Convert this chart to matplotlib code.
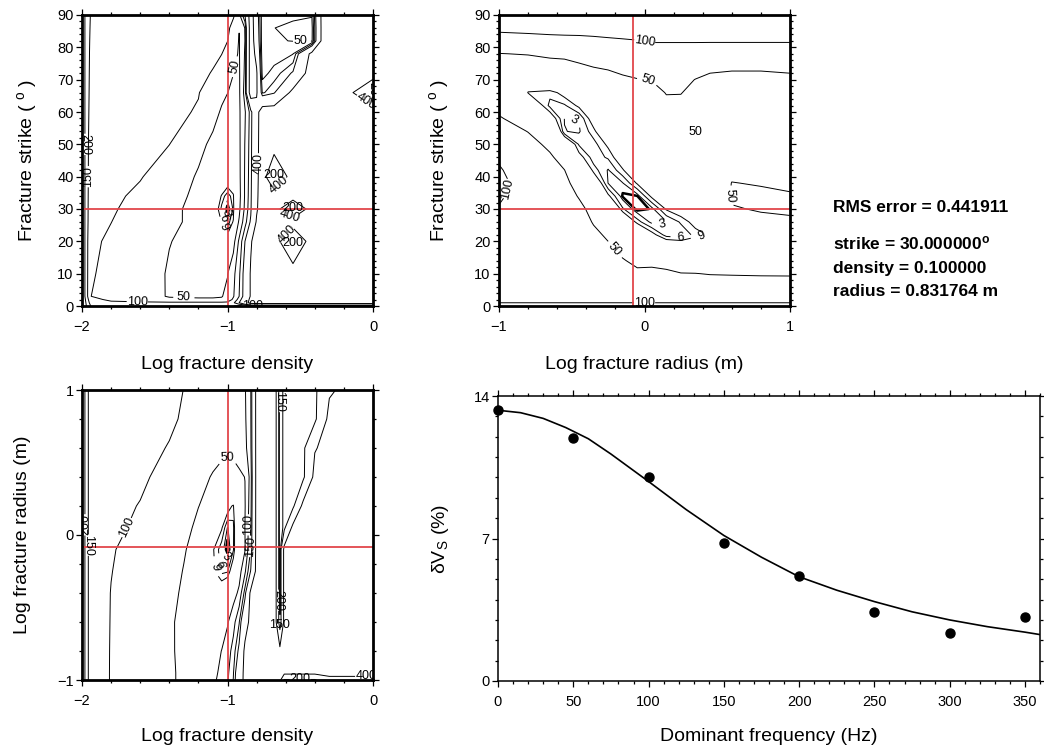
import numpy as np
import matplotlib
matplotlib.use('Agg')
import matplotlib.pyplot as plt
from matplotlib.ticker import MultipleLocator

plt.rcParams['font.family'] = ['Liberation Sans', 'DejaVu Sans']
plt.rcParams['mathtext.fontset'] = 'custom'
plt.rcParams['mathtext.rm'] = 'Liberation Sans'
plt.rcParams['mathtext.it'] = 'Liberation Sans:italic'
plt.rcParams['mathtext.bf'] = 'Liberation Sans:bold'

# best-fitting crack model
best_strike = 30.0
best_density = 0.1
best_radius = 0.831764
rms_error = 0.441911

# observed shear-wave anisotropy against dominant frequency
freq_obs = [0, 50, 100, 150, 200, 250, 300, 350]
dvs_obs = [13.30, 11.92, 10.03, 6.80, 5.16, 3.41, 2.34, 3.12]

# predicted anisotropy of the best model
freq_fit = [0, 15, 30, 45, 60, 75, 100, 125, 150, 175, 200, 225, 250, 275, 300, 325, 350, 360]
dvs_fit = [13.30, 13.18, 12.90, 12.45, 11.90, 11.15, 9.80, 8.42, 7.15, 6.08, 5.12, 4.46, 3.90,
           3.40, 3.00, 2.67, 2.40, 2.28]

levels = [1.8, 3, 6, 9, 50, 100, 150, 200, 400]

# misfit, log density vs strike (rows = strike)
tl_density = [-2.0, -1.97, -1.94, -1.8, -1.6, -1.4, -1.2, -1.1, -1.04, -1.0, -0.96,
              -0.92, -0.88, -0.84, -0.8, -0.76, -0.68, -0.55, -0.42, -0.34, -0.2, 0.0]
tl_strike = [0, 1, 2, 3, 10, 20, 26, 30, 34, 40, 50, 60, 66, 72, 78, 82, 86, 90]
tl_misfit = [
    [300, 200, 150, 130, 130, 130, 130, 130, 125, 115, 101, 90, 80, 80, 80, 80, 80, 80, 80, 80, 80, 80],
    [280, 190, 130, 110, 110, 110, 110, 110, 110, 112, 140, 200, 300, 480, 500, 500, 500, 500, 500, 500, 500, 500],
    [270, 180, 115, 90, 75, 55, 55, 55, 55, 65, 110, 170, 260, 460, 500, 500, 500, 500, 500, 500, 500, 500],
    [260, 170, 100.5, 80, 62, 48, 45, 45, 48, 60, 95, 150, 230, 420, 500, 500, 500, 500, 500, 500, 500, 500],
    [260, 170, 104, 88, 67, 47, 40, 37, 40, 48, 85, 140, 230, 420, 500, 500, 500, 500, 500, 500, 500, 500],
    [260, 170, 108, 93, 72, 51, 40, 32, 25, 12, 30, 110, 200, 380, 500, 500, 500, 180, 500, 500, 500, 500],
    [260, 170, 118, 100.5, 78, 56.5, 42, 30, 8, 4, 9.5, 55, 130, 210, 420, 500, 500, 500, 500, 500, 500, 500],
    [260, 170, 120, 106, 81, 54.5, 44.5, 15, 5, 1.0, 6.5, 40, 110, 190, 380, 500, 500, 180, 500, 500, 500, 500],
    [260, 170, 122, 110, 90, 60, 44, 22, 8, 4, 8, 35, 105, 185, 370, 500, 500, 500, 500, 500, 500, 500],
    [260, 170, 125, 115, 103, 74, 46, 35, 24, 15, 18, 38, 105, 180, 360, 500, 180, 500, 500, 500, 500, 500],
    [260, 170, 128, 120, 112, 100.5, 60, 42, 38, 36, 34, 40, 102, 175, 350, 500, 500, 500, 500, 500, 500, 500],
    [260, 170, 135, 128, 120, 112, 96, 62, 46, 40, 38, 42, 95, 170, 340, 500, 500, 500, 500, 500, 500, 500],
    [260, 170, 138, 132, 126, 118, 102, 75, 58, 50.5, 44, 42, 120, 500, 420, 140, 190, 450, 500, 500, 500, 180],
    [260, 170, 140, 135, 130, 124, 112, 97, 72, 60, 50.5, 44, 110, 500, 420, 80, 120, 210, 500, 500, 500, 500],
    [260, 170, 142, 138, 134, 128, 120, 110, 101, 80, 62, 46, 105, 500, 350, 60, 70, 98, 450, 500, 500, 500],
    [260, 170, 144, 140, 136, 132, 126, 116, 108, 101, 76, 47, 100.5, 500, 300, 58, 54, 48.5, 40, 500, 500, 500],
    [260, 170, 146, 142, 138, 134, 128, 120, 112, 106, 90, 52, 102, 500, 280, 60, 50.5, 42, 36, 500, 500, 500],
    [260, 170, 148, 144, 140, 136, 130, 124, 116, 110, 104, 85, 200, 500, 260, 62, 60, 57, 53, 500, 500, 500],
]

# misfit, log radius vs strike (one profile per radius column)
tr_radius = [-1.0, -0.8, -0.65, -0.55, -0.45, -0.35, -0.25, -0.15, -0.05,
             0.05, 0.15, 0.25, 0.35, 0.45, 0.6, 0.8, 1.0]
tr_strike = [0, 2, 6, 10, 14, 18, 22, 26, 30, 34, 38, 42, 46, 50, 54, 58, 62, 66, 70, 74, 78, 82, 86, 90]
tr_misfit_cols = [
    [108, 92, 85, 82, 82, 84, 88, 93, 98, 104, 108, 103, 96, 85, 70, 53, 40, 31, 29, 36, 49, 80, 110, 130],
    [108, 92, 80, 76, 75, 76, 78, 80, 83, 85, 86, 82, 75, 63, 49, 34, 17, 8.7, 14, 30, 52, 84, 112, 130],
    [108, 92, 78, 72, 70, 70, 71, 73, 76, 78, 75, 67, 55, 42, 27, 13, 5, 7, 20, 38, 56, 88, 113, 130],
    [108, 92, 77, 71, 69, 68, 68, 68, 68, 66, 60, 50.5, 36, 18, 3.1, 2.9, 5.5, 11, 24, 40, 57, 89, 114, 130],
    [108, 92, 76, 70, 67, 66, 65, 63, 59, 47.5, 34, 22, 11, 5.5, 2.6, 3.2, 10, 18, 30, 46, 60, 90, 114, 130],
    [108, 92, 74, 67, 63, 60, 56, 48, 39, 28, 16, 7.5, 4.3, 4.6, 7.8, 12, 20, 28, 36, 50.5, 62, 92, 115, 130],
    [108, 92, 72, 65, 60, 54, 46, 34, 22, 10, 2.9, 2.7, 6.5, 10, 16, 23, 29, 34, 41, 53, 66, 95, 115, 130],
    [108, 92, 70, 61, 52, 42, 30, 18, 6.5, 1.5, 2.8, 8.5, 13, 19, 25, 30, 34, 39, 46, 57, 70, 97, 116, 130],
    [108, 92, 68, 55, 44, 32, 20, 7.5, 1.0, 1.7, 9.5, 15, 21, 27, 32, 36, 40, 44, 49, 61, 74, 99, 117, 130],
    [108, 92, 68, 56, 44, 27, 11, 2.0, 2.0, 10, 17, 24, 30, 35, 38, 41, 43, 46, 50.5, 62, 80, 103, 118, 130],
    [108, 92, 67, 55, 40, 17, 4.5, 2.7, 9.5, 16, 23, 30, 35, 39, 42, 45, 47.5, 50.5, 55, 64, 80, 103, 118, 130],
    [108, 92, 66, 51, 33, 16, 3.6, 6.5, 12.5, 20, 27, 33, 37, 40, 43, 45.5, 48, 50.3, 56, 65, 80, 103, 118, 130],
    [108, 92, 65, 50.5, 34, 18, 7, 11, 17, 24, 31, 36, 39, 42, 50.6, 45.5, 46.5, 47.5, 49.5, 60, 80, 103, 118, 130],
    [108, 92, 62, 49, 35, 20, 9.6, 14, 20, 27, 33, 38, 41, 43, 44, 45, 46, 47, 48, 52, 78, 103, 118, 130],
    [108, 92, 61, 48.5, 38, 32, 34, 42, 49, 52, 50.4, 46, 44, 44, 44, 45, 46, 47, 48, 51, 78, 103, 118, 130],
    [108, 92, 60, 48, 41, 38, 41, 47, 51, 53, 49, 46, 45, 45, 45, 45, 46, 47, 48, 51, 78, 103, 118, 130],
    [108, 92, 59, 48, 42, 40, 43, 48, 52, 51, 48, 46, 45, 45, 45, 45, 46, 47, 48, 52, 78, 103, 118, 130],
]

# misfit, log density vs log radius (rows = log radius)
bl_density = [-2.0, -1.97, -1.94, -1.8, -1.6, -1.4, -1.3, -1.2, -1.1, -1.04, -1.0, -0.96, -0.92,
              -0.88, -0.84, -0.8, -0.76, -0.67, -0.64, -0.61, -0.55, -0.48, -0.4, -0.3, -0.15, 0.0]
bl_radius = [-1.0, -0.95, -0.8, -0.6, -0.4, -0.25, -0.1, 0.05, 0.2, 0.4, 0.6, 0.8, 1.0]
bl_misfit = [
    [260, 170, 125, 97.8, 76, 54, 45, 42, 45, 58, 92, 152, 300, 450, 450, 450, 450, 450, 450, 180, 180, 180, 180, 350, 350, 350],
    [260, 170, 125, 97.8, 76, 54, 45, 42, 44, 55, 88, 145, 290, 450, 450, 450, 450, 450, 450, 450, 450, 450, 450, 450, 450, 450],
    [260, 170, 125, 98, 75, 53.5, 44, 40, 40, 50.5, 75, 120, 220, 440, 450, 450, 450, 450, 450, 450, 450, 450, 450, 450, 450, 450],
    [260, 170, 125, 98.5, 76, 54, 43, 36, 33, 38, 45, 80, 145, 320, 450, 450, 450, 450, 110, 450, 450, 450, 450, 450, 450, 450],
    [260, 170, 125, 99, 77, 55.5, 47, 38, 28, 14, 18, 30, 60, 170, 440, 450, 450, 450, 110, 450, 450, 450, 450, 450, 450, 450],
    [260, 170, 125, 101, 81, 59.6, 48.9, 38, 10, 5, 5.5, 14, 30, 90, 205, 450, 450, 450, 110, 450, 450, 450, 450, 450, 450, 450],
    [260, 170, 125, 103, 85, 64, 52, 40, 9.5, 4, 1.0, 5.5, 22, 47, 152, 450, 450, 450, 110, 450, 450, 450, 450, 450, 450, 450],
    [260, 170, 125, 106, 95, 71, 58, 44, 30, 9.5, 2.8, 5, 24, 50.5, 140, 450, 450, 450, 110, 170, 450, 450, 450, 450, 450, 450],
    [260, 170, 125, 110, 98.5, 78, 64, 50.5, 40, 30, 12, 8, 35, 47, 130, 450, 450, 450, 110, 170, 170, 450, 450, 450, 450, 450],
    [260, 170, 125, 115, 106, 88, 76, 62, 47, 40, 38, 40, 45, 50.5, 120, 450, 450, 450, 110, 170, 170, 170, 450, 450, 450, 450],
    [260, 170, 125, 120, 112, 98, 88, 75, 64, 58, 56, 57, 62, 85, 140, 450, 450, 450, 110, 170, 170, 170, 390, 450, 450, 450],
    [260, 170, 125, 125, 118, 106, 96, 86, 78, 74, 72, 72, 75, 92, 145, 450, 450, 450, 110, 170, 170, 170, 170, 450, 450, 450],
    [260, 170, 125, 128, 122, 110, 99.5, 92, 86, 82, 80, 80, 82, 95, 148, 450, 450, 450, 110, 170, 170, 170, 170, 380, 450, 450],
]

RED = '#e2474b'


def style_axes(ax, spine_w):
    for sp in ax.spines.values():
        sp.set_linewidth(spine_w)
    ax.tick_params(which='both', direction='out', top=True, right=True,
                   width=0.9, labelsize=10.5)
    ax.tick_params(axis='x', pad=6)
    ax.tick_params(axis='y', pad=2)
    ax.tick_params(which='major', length=4)
    ax.tick_params(which='minor', length=2.2)


def misfit_panel(ax, x, y, z, spots):
    widths = [1.8 if lev == 1.8 else 0.7 for lev in levels]
    cs = ax.contour(x, y, np.asarray(z, dtype=float), levels=levels,
                    colors='black', linewidths=widths)
    # set up labelling for every level, then place each label by hand
    cs.clabel(levels=levels, manual=[], inline=True, fontsize=9, fmt='%g')
    for lev, pts in spots.items():
        cs.labelIndiceList = [levels.index(lev)]
        for px, py in pts:
            cs.add_label_near(px, py, inline=True, inline_spacing=2)
    return cs


fig = plt.figure(figsize=(10.44, 7.49), dpi=100)
ax_tl = fig.add_axes([82 / 1044, 1 - 306 / 749, 291 / 1044, 291 / 749])
ax_tr = fig.add_axes([499 / 1044, 1 - 306 / 749, 291 / 1044, 291 / 749])
ax_bl = fig.add_axes([82 / 1044, 1 - 680 / 749, 291 / 1044, 290 / 749])
ax_br = fig.add_axes([498 / 1044, 1 - 681 / 749, 542 / 1044, 285 / 749])

log_d = np.log10(best_density)
log_r = np.log10(best_radius)

# density vs strike
ax_tl.set_xlim(-2, 0)
ax_tl.set_ylim(0, 90)
misfit_panel(ax_tl, tl_density, tl_strike, tl_misfit, {
    200: [(-1.975, 50), (-0.68, 41), (-0.55, 30.5), (-0.55, 18.5), (-0.02, 67)],
    150: [(-1.962, 40)],
    100: [(-1.62, 1.2), (-0.83, 0.2)],
    50: [(-1.3, 2.4), (-0.95, 74), (-0.5, 82.8)],
    9: [(-1.05, 24)], 6: [(-1.03, 27)], 3: [(-1.01, 29)],
    400: [(-0.84, 44), (-0.66, 38), (-0.57, 28), (-0.57, 21), (-0.04, 64)],
})
ax_tl.axvline(log_d, color=RED, lw=1.3)
ax_tl.axhline(best_strike, color=RED, lw=1.3)
ax_tl.xaxis.set_major_locator(MultipleLocator(1))
ax_tl.xaxis.set_minor_locator(MultipleLocator(0.2))
ax_tl.yaxis.set_major_locator(MultipleLocator(10))
ax_tl.yaxis.set_minor_locator(MultipleLocator(2))
ax_tl.set_xlabel('Log fracture density', fontsize=14, labelpad=16)
ax_tl.set_ylabel('Fracture strike ( $^{\\mathrm{o}}$ )', fontsize=14, labelpad=13.5)
style_axes(ax_tl, 2.0)

# radius vs strike
ax_tr.set_xlim(-1, 1)
ax_tr.set_ylim(0, 90)
misfit_panel(ax_tr, tr_radius, tr_strike, np.array(tr_misfit_cols).T, {
    100: [(0.0, 81.5), (0.0, 1.0), (-0.985, 37)],
    50: [(0.02, 69.8), (-0.25, 15.5), (0.56, 34), (0.35, 54)],
    3: [(-0.5, 56), (0.12, 24.5)],
    6: [(0.25, 21.5)],
    9: [(0.39, 21.5)],
})
ax_tr.axvline(log_r, color=RED, lw=1.3)
ax_tr.axhline(best_strike, color=RED, lw=1.3)
ax_tr.xaxis.set_major_locator(MultipleLocator(1))
ax_tr.xaxis.set_minor_locator(MultipleLocator(0.2))
ax_tr.yaxis.set_major_locator(MultipleLocator(10))
ax_tr.yaxis.set_minor_locator(MultipleLocator(2))
ax_tr.set_xlabel('Log fracture radius (m)', fontsize=14, labelpad=16)
ax_tr.set_ylabel('Fracture strike ( $^{\\mathrm{o}}$ )', fontsize=14, labelpad=17)
style_axes(ax_tr, 2.0)

# density vs radius
ax_bl.set_xlim(-2, 0)
ax_bl.set_ylim(-1, 1)
misfit_panel(ax_bl, bl_density, bl_radius, bl_misfit, {
    200: [(-1.975, 0.07), (-0.648, -0.45), (-0.5, -0.975)],
    150: [(-1.962, -0.07), (-0.643, -0.68), (-0.64, 0.92), (-0.83, -0.08)],
    100: [(-1.69, 0.05), (-0.86, 0.07)],
    50: [(-1.0, 0.54)],
    400: [(-0.05, -0.99)],
    9: [(-1.09, -0.22)], 6: [(-1.06, -0.2)], 3: [(-1.03, -0.16)],
})
ax_bl.axvline(log_d, color=RED, lw=1.3)
ax_bl.axhline(log_r, color=RED, lw=1.3)
ax_bl.xaxis.set_major_locator(MultipleLocator(1))
ax_bl.xaxis.set_minor_locator(MultipleLocator(0.2))
ax_bl.yaxis.set_major_locator(MultipleLocator(1))
ax_bl.yaxis.set_minor_locator(MultipleLocator(0.2))
ax_bl.set_xlabel('Log fracture density', fontsize=14, labelpad=14.5)
ax_bl.set_ylabel('Log fracture radius (m)', fontsize=14, labelpad=19)
style_axes(ax_bl, 2.0)

# frequency dependence
ax_br.plot(freq_fit, dvs_fit, color='black', lw=1.2)
ax_br.plot(freq_obs, dvs_obs, 'o', color='black', ms=6.5, clip_on=False, zorder=5)
ax_br.set_xlim(0, 360)
ax_br.set_ylim(0, 14)
ax_br.xaxis.set_major_locator(MultipleLocator(50))
ax_br.xaxis.set_minor_locator(MultipleLocator(10))
ax_br.yaxis.set_major_locator(MultipleLocator(7))
ax_br.yaxis.set_minor_locator(MultipleLocator(1))
ax_br.set_xlabel('Dominant frequency (Hz)', fontsize=14, labelpad=14)
ax_br.set_ylabel('δV$_{\\mathrm{S}}$ (%)', fontsize=14, labelpad=16)
style_axes(ax_br, 1.1)

info = [
    (208, 'RMS error = %.6f' % rms_error),
    (243, 'strike = %.6f$^{\\mathbf{o}}$' % best_strike),
    (268, 'density = %.6f' % best_density),
    (292, 'radius = %.6f m' % best_radius),
]
for ypix, txt in info:
    fig.text(833 / 1044, 1 - ypix / 749, txt, fontsize=12.5, fontweight='bold', va='center')

fig.savefig('out.png', dpi=100)
